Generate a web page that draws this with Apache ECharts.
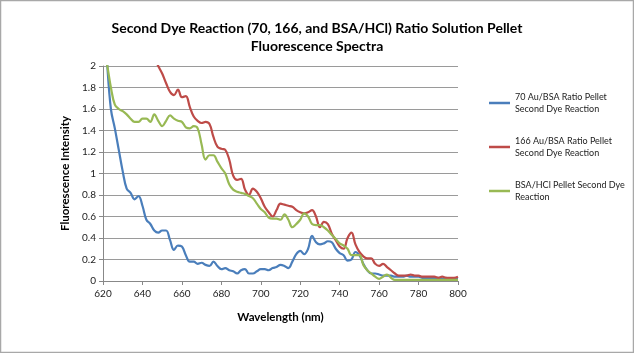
<!DOCTYPE html>
<html>
<head>
<meta charset="utf-8">
<script src="https://cdn.jsdelivr.net/npm/echarts@6/dist/echarts.min.js"></script>
<style>
  html, body { margin: 0; padding: 0; background: #fff; }
  #main { width: 634px; height: 353px; }
</style>
</head>
<body>
<div id="main"></div>
<script>
// wavelength grid, 2 nm steps 620..800
const wavelengths = []
for (let w = 620; w <= 800; w += 2) wavelengths.push(w)

const seriesNames = [
  '70 Au/BSA Ratio Pellet\nSecond Dye Reaction',
  '166 Au/BSA Ratio Pellet\nSecond Dye Reaction',
  'BSA/HCl Pellet Second Dye\nReaction'
]

const au70 = [
  2.6, 2.05, 1.6, 1.42, 1.22, 1.02, 0.86, 0.82, 0.76, 0.79,
  0.7, 0.57, 0.53, 0.47, 0.45, 0.47, 0.47, 0.38, 0.29, 0.33,
  0.32, 0.24, 0.18, 0.18, 0.16, 0.17, 0.15, 0.14, 0.18, 0.14,
  0.11, 0.12, 0.1, 0.09, 0.07, 0.1, 0.11, 0.07, 0.07, 0.09,
  0.11, 0.11, 0.1, 0.12, 0.13, 0.15, 0.14, 0.12, 0.18, 0.25,
  0.28, 0.25, 0.3, 0.42, 0.36, 0.34, 0.35, 0.37, 0.36, 0.3,
  0.26, 0.24, 0.19, 0.2, 0.27, 0.24, 0.16, 0.1, 0.07, 0.07,
  0.06, 0.05, 0.05, 0.05, 0.04, 0.04, 0.04, 0.05, 0.04, 0.04,
  0.04, 0.03, 0.03, 0.03, 0.03, 0.03, 0.02, 0.03, 0.02, 0.02, 0.02
]

const au166 = [
  null, null, null, null, null, null, null, null, null, null,
  null, null, null, 2.08, 2.0, 1.93, 1.84, 1.76, 1.73, 1.78,
  1.71, 1.72, 1.62, 1.53, 1.49, 1.47, 1.48, 1.46, 1.34, 1.25,
  1.23, 1.22, 1.13, 0.98, 0.94, 0.95, 0.85, 0.8, 0.86, 0.83,
  0.77, 0.69, 0.64, 0.6, 0.66, 0.72, 0.71, 0.7, 0.69, 0.66,
  0.64, 0.63, 0.64, 0.66, 0.6, 0.5, 0.55, 0.53, 0.44, 0.38,
  0.32, 0.3, 0.4, 0.45, 0.34, 0.27, 0.23, 0.21, 0.21, 0.16,
  0.14, 0.16, 0.13, 0.1, 0.07, 0.05, 0.05, 0.05, 0.06, 0.05,
  0.05, 0.04, 0.04, 0.04, 0.04, 0.03, 0.04, 0.03, 0.03, 0.03, 0.04
]

const bsaHcl = [
  2.2, 2.02, 1.8, 1.64, 1.6, 1.58, 1.55, 1.51, 1.48, 1.48,
  1.51, 1.51, 1.48, 1.55, 1.49, 1.44, 1.49, 1.54, 1.51, 1.49,
  1.48, 1.43, 1.42, 1.44, 1.42, 1.27, 1.13, 1.17, 1.17, 1.11,
  1.05, 1.0, 0.9, 0.85, 0.83, 0.82, 0.81, 0.79, 0.77, 0.72,
  0.67, 0.64, 0.59, 0.58, 0.58, 0.57, 0.62, 0.57, 0.5, 0.53,
  0.57, 0.63, 0.6, 0.53, 0.52, 0.52, 0.5, 0.47, 0.43, 0.39,
  0.35, 0.33, 0.3, 0.24, 0.24, 0.24, 0.15, 0.1, 0.07, 0.04,
  0.02, 0.04, 0.06, 0.03, 0.01, 0.01, 0.01, 0.01, 0.01, 0.01,
  0.01, 0.01, 0.01, 0.01, 0.01, 0.01, 0.01, 0.01, 0.01, 0.01, 0.01
]

const colors = ['#4a7ebb', '#be4b48', '#98b954']
const font = 'Lato, "Open Sans", sans-serif'

function pairs (vals) {
  return wavelengths.map((w, i) => [w, vals[i]])
}

const allSeries = [au70, au166, bsaHcl].map((vals, i) => ({
  name: seriesNames[i],
  type: 'line',
  data: pairs(vals),
  smooth: 0.4,
  showSymbol: false,
  clip: true,
  lineStyle: { width: 2.2, color: colors[i] },
  itemStyle: { color: colors[i] },
  animation: false
}))

const option = {
  backgroundColor: '#fff',
  title: {
    text: 'Second Dye Reaction (70, 166, and BSA/HCl) Ratio Solution Pellet\nFluorescence Spectra',
    left: 'center',
    top: 14,
    textStyle: {
      fontFamily: font,
      fontWeight: 'bold',
      fontSize: 14,
      lineHeight: 18,
      color: '#000'
    }
  },
  legend: {
    orient: 'vertical',
    left: 484,
    top: 80,
    itemWidth: 21,
    itemHeight: 2.5,
    itemGap: 8,
    icon: 'rect',
    data: seriesNames,
    textStyle: {
      fontFamily: font,
      fontSize: 9,
      lineHeight: 12,
      color: '#222',
      padding: [12, 0, 0, 0]
    }
  },
  grid: { left: 103, right: 176, top: 66, bottom: 72 },
  xAxis: {
    type: 'value',
    min: 620,
    max: 800,
    interval: 20,
    name: 'Wavelength (nm)',
    nameLocation: 'middle',
    nameGap: 30,
    nameTextStyle: { fontFamily: font, fontWeight: 'bold', fontSize: 11.5, color: '#000' },
    axisLine: { lineStyle: { color: '#888' } },
    axisTick: { show: true, length: 4, lineStyle: { color: '#888' } },
    axisLabel: { fontFamily: font, fontSize: 10, color: '#222', margin: 8 },
    splitLine: { show: false }
  },
  yAxis: {
    type: 'value',
    min: 0,
    max: 2,
    interval: 0.2,
    name: 'Fluorescence Intensity',
    nameLocation: 'middle',
    nameGap: 26,
    nameTextStyle: { fontFamily: font, fontWeight: 'bold', fontSize: 11.5, color: '#000' },
    axisLine: { show: true, lineStyle: { color: '#888' } },
    axisTick: { show: true, length: 4, lineStyle: { color: '#888' } },
    axisLabel: { fontFamily: font, fontSize: 10, color: '#222', margin: 7 },
    splitLine: { lineStyle: { color: '#9a9a9a', width: 1 } }
  },
  graphic: [{
    type: 'rect',
    silent: true,
    shape: { x: 0.5, y: 0.5, width: 633, height: 352 },
    style: { fill: 'none', stroke: '#a8a8a8', lineWidth: 1.5 }
  }],
  series: allSeries
}

const myChart = echarts.init(document.getElementById('main'), null, { renderer: 'canvas' })
myChart.setOption(option)
</script>
</body>
</html>
